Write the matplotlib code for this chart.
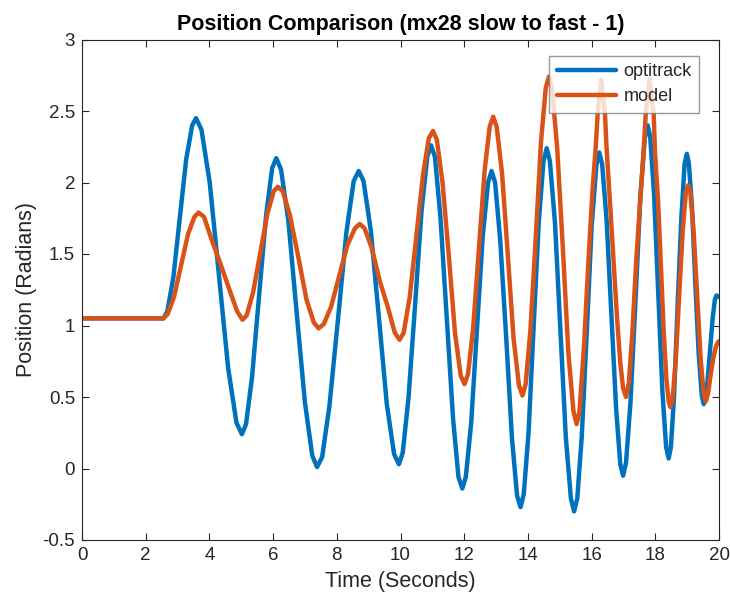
import matplotlib
matplotlib.use("Agg")
import matplotlib.pyplot as plt

plt.rcParams['font.family'] = ['Liberation Sans', 'DejaVu Sans']

title = "Position Comparison (mx28 slow to fast - 1)"
xlabel = "Time (Seconds)"
ylabel = "Position (Radians)"
series_names = ["optitrack", "model"]

opti_t = [0.00, 2.56, 2.68, 2.87, 3.07, 3.27, 3.46, 3.58,
          3.75, 4.01, 4.30, 4.59, 4.85, 5.02,
          5.15, 5.34, 5.56, 5.78, 5.97, 6.10,
          6.25, 6.48, 6.74, 7.00, 7.23, 7.38,
          7.54, 7.77, 8.04, 8.30, 8.53, 8.69,
          8.84, 9.07, 9.32, 9.57, 9.80, 9.95,
          10.07, 10.25, 10.46, 10.66, 10.84, 10.96,
          11.08, 11.25, 11.45, 11.65, 11.82, 11.94,
          12.05, 12.22, 12.40, 12.58, 12.75, 12.86,
          12.97, 13.13, 13.32, 13.50, 13.66, 13.77,
          13.87, 14.02, 14.18, 14.34, 14.49, 14.59,
          14.69, 14.85, 15.02, 15.19, 15.35, 15.45,
          15.55, 15.69, 15.85, 16.00, 16.15, 16.24,
          16.33, 16.47, 16.62, 16.77, 16.90, 16.99,
          17.08, 17.22, 17.38, 17.53, 17.67, 17.76,
          17.84, 17.96, 18.09, 18.22, 18.34, 18.42,
          18.49, 18.59, 18.70, 18.82, 18.92, 18.99,
          19.05, 19.15, 19.25, 19.36, 19.46, 19.52,
          19.57, 19.64, 19.72, 19.80, 19.87, 19.92, 20.00]
opti_v = [1.05, 1.05, 1.10, 1.34, 1.75, 2.16, 2.40, 2.45,
          2.37, 2.00, 1.35, 0.70, 0.32, 0.24,
          0.31, 0.64, 1.21, 1.77, 2.10, 2.17,
          2.09, 1.73, 1.09, 0.46, 0.09, 0.01,
          0.08, 0.44, 1.05, 1.65, 2.01, 2.08,
          2.01, 1.66, 1.06, 0.45, 0.10, 0.03,
          0.11, 0.49, 1.15, 1.80, 2.18, 2.26,
          2.18, 1.77, 1.06, 0.35, -0.06, -0.14,
          -0.06, 0.32, 0.97, 1.62, 2.00, 2.08,
          2.00, 1.60, 0.91, 0.21, -0.19, -0.27,
          -0.18, 0.25, 0.99, 1.72, 2.15, 2.24,
          2.15, 1.72, 0.97, 0.22, -0.21, -0.30,
          -0.21, 0.22, 0.96, 1.69, 2.12, 2.21,
          2.13, 1.74, 1.08, 0.42, 0.03, -0.05,
          0.04, 0.46, 1.18, 1.90, 2.31, 2.40,
          2.32, 1.92, 1.24, 0.55, 0.15, 0.07,
          0.15, 0.51, 1.14, 1.76, 2.13, 2.20,
          2.14, 1.84, 1.33, 0.81, 0.51, 0.45,
          0.48, 0.61, 0.83, 1.05, 1.18, 1.21, 1.20]

model_t = [0.00, 2.56, 2.69, 2.89, 3.11, 3.33, 3.53, 3.66,
           3.83, 4.07, 4.35, 4.63, 4.87, 5.04,
           5.17, 5.37, 5.60, 5.82, 6.02, 6.15,
           6.30, 6.53, 6.79, 7.05, 7.28, 7.43,
           7.59, 7.82, 8.08, 8.33, 8.57, 8.72,
           8.87, 9.10, 9.35, 9.60, 9.82, 9.97,
           10.10, 10.29, 10.50, 10.71, 10.89, 11.02,
           11.14, 11.32, 11.52, 11.71, 11.89, 12.01,
           12.12, 12.28, 12.46, 12.64, 12.80, 12.91,
           13.02, 13.19, 13.37, 13.55, 13.72, 13.83,
           13.93, 14.08, 14.25, 14.41, 14.56, 14.66,
           14.76, 14.92, 15.10, 15.27, 15.43, 15.53,
           15.62, 15.76, 15.90, 16.03, 16.13, 16.19, 16.30,
           16.42, 16.47, 16.60, 16.69, 16.80, 16.90, 16.99, 17.08,
           17.17, 17.28, 17.40, 17.52, 17.63, 17.70, 17.82,
           17.95, 17.99, 18.08, 18.17, 18.26, 18.35, 18.42, 18.47,
           18.54, 18.64, 18.75, 18.86, 18.96, 19.03,
           19.10, 19.20, 19.31, 19.42, 19.52, 19.59,
           19.66, 19.74, 19.82, 19.90, 19.96, 20.00]
model_v = [1.05, 1.05, 1.08, 1.20, 1.42, 1.64, 1.76, 1.79,
           1.76, 1.60, 1.43, 1.25, 1.10, 1.04,
           1.07, 1.23, 1.51, 1.78, 1.94, 1.97,
           1.94, 1.77, 1.48, 1.18, 1.02, 0.98,
           1.01, 1.13, 1.35, 1.56, 1.68, 1.71,
           1.68, 1.54, 1.31, 1.13, 0.95, 0.90,
           0.95, 1.20, 1.63, 2.06, 2.31, 2.36,
           2.30, 2.00, 1.48, 0.95, 0.65, 0.59,
           0.66, 0.98, 1.53, 2.08, 2.39, 2.46,
           2.39, 2.06, 1.49, 0.91, 0.58, 0.51,
           0.59, 0.97, 1.63, 2.28, 2.66, 2.74,
           2.65, 2.24, 1.53, 0.81, 0.40, 0.31,
           0.40, 0.85, 1.45, 1.95, 2.25, 2.48, 2.72,
           2.48, 2.24, 1.78, 1.45, 1.05, 0.74, 0.56, 0.50,
           0.60, 0.95, 1.45, 1.85, 2.21, 2.48, 2.72,
           2.48, 2.21, 1.90, 1.45, 0.98, 0.62, 0.47, 0.43,
           0.48, 0.75, 1.21, 1.66, 1.93, 1.98,
           1.93, 1.67, 1.23, 0.78, 0.52, 0.47,
           0.53, 0.66, 0.77, 0.85, 0.88, 0.89]

x_ticks = [0, 2, 4, 6, 8, 10, 12, 14, 16, 18, 20]
y_ticks = [-0.5, 0, 0.5, 1, 1.5, 2, 2.5, 3]
y_ticklabels = ["-0.5", "0", "0.5", "1", "1.5", "2", "2.5", "3"]

W, H = 730, 605
fig = plt.figure(figsize=(W / 100, H / 100), dpi=100)
ax = fig.add_axes([82 / W, (H - 540) / H, (719 - 82) / W, (540 - 39.5) / H])

blue = "#0072BD"
orange = "#D95319"
axc = "#262626"

ax.plot(opti_t, opti_v, color=blue, lw=3.2, label=series_names[0],
        solid_joinstyle='round', solid_capstyle='round')
ax.plot(model_t, model_v, color=orange, lw=3.2, label=series_names[1],
        solid_joinstyle='round', solid_capstyle='round')

ax.set_xlim(0, 20)
ax.set_ylim(-0.5, 3)
ax.set_xticks(x_ticks)
ax.set_xticklabels([str(v) for v in x_ticks])
ax.set_yticks(y_ticks)
ax.set_yticklabels(y_ticklabels)

for s in ax.spines.values():
    s.set_color(axc)
    s.set_linewidth(0.8)
ax.tick_params(direction='in', length=5, width=0.8, colors=axc,
               labelsize=13.5, top=True, right=True, pad=5)
for lab in ax.get_xticklabels() + ax.get_yticklabels():
    lab.set_color(axc)

ax.set_title(title, fontsize=15.5, fontweight='bold', color='black', pad=7)
ax.set_xlabel(xlabel, fontsize=15.5, color=axc, labelpad=5)
ax.set_ylabel(ylabel, fontsize=15.5, color=axc, labelpad=4)

leg = ax.legend(loc='upper right', bbox_to_anchor=(0.9686, 0.967),
                borderaxespad=0, fontsize=13, frameon=True, fancybox=False,
                handlelength=3.3, handletextpad=0.4, borderpad=0.4,
                labelspacing=0.45)
leg.get_frame().set_edgecolor('#7f7f7f')
leg.get_frame().set_linewidth(1.0)
for t in leg.get_texts():
    t.set_color(axc)

fig.savefig("out.png", dpi=100, facecolor='white')
